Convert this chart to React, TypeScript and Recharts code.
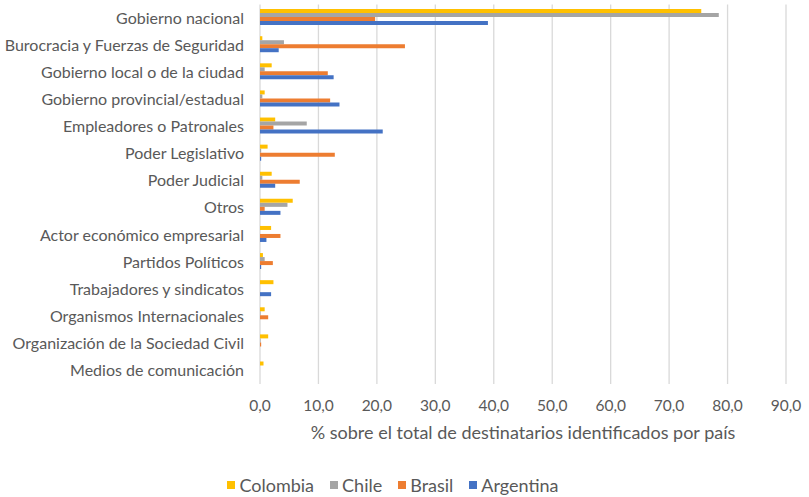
import { Bar, BarChart, CartesianGrid, Legend, XAxis, YAxis } from "recharts";

const categories = [
  "Gobierno nacional",
  "Burocracia y Fuerzas de Seguridad",
  "Gobierno local o de la ciudad",
  "Gobierno provincial/estadual",
  "Empleadores o Patronales",
  "Poder Legislativo",
  "Poder Judicial",
  "Otros",
  "Actor económico empresarial",
  "Partidos Políticos",
  "Trabajadores y sindicatos",
  "Organismos Internacionales",
  "Organización de la Sociedad Civil",
  "Medios de comunicación",
];

const colombia = [75.5, 0.4, 2.0, 0.8, 2.6, 1.3, 2.0, 5.6, 1.9, 0.5, 2.3, 0.8, 1.4, 0.6];
const chile = [78.5, 4.1, 0.8, 0.4, 8.0, 0.2, 0.4, 4.7, 0, 0.8, 0, 0.1, 0.1, 0];
const brasil = [19.7, 24.8, 11.6, 12.0, 2.3, 12.8, 6.8, 0.8, 3.5, 2.2, 0, 1.4, 0.2, 0];
const argentina = [39.0, 3.2, 12.6, 13.6, 21.0, 0.2, 2.6, 3.5, 1.1, 0.2, 1.9, 0, 0, 0];

const xTicks = [0, 10, 20, 30, 40, 50, 60, 70, 80, 90];

const series = [
  { key: "Colombia", color: "#FFC000" },
  { key: "Chile", color: "#A5A5A5" },
  { key: "Brasil", color: "#ED7D31" },
  { key: "Argentina", color: "#4472C4" },
];

const data = categories.map((name, i) => ({
  name,
  Colombia: colombia[i],
  Chile: chile[i],
  Brasil: brasil[i],
  Argentina: argentina[i],
}));

const font = "Lato, 'Open Sans', sans-serif";
const textColor = "#595959";
const fmt = (v: number) => v.toFixed(1).replace(".", ",");

function LegendContent() {
  return (
    <div
      style={{
        display: "flex",
        justifyContent: "center",
        alignItems: "center",
        height: 24,
        fontSize: 18,
        fontFamily: font,
        color: textColor,
        gap: 16,
      }}
    >
      {series.map((s) => (
        <div key={s.key} style={{ display: "flex", alignItems: "center", gap: 4 }}>
          <span style={{ width: 8, height: 8, background: s.color, display: "inline-block" }} />
          <span>{s.key}</span>
        </div>
      ))}
    </div>
  );
}

export default function App() {
  return (
    <div style={{ position: "absolute", left: 0, top: 0, fontFamily: font }}>
      <BarChart
        width={809}
        height={497}
        data={data}
        layout="vertical"
        barCategoryGap="17%"
        barGap={0}
        margin={{ top: 4.5, right: 23, bottom: 0, left: 0 }}
      >
        <CartesianGrid horizontal={false} stroke="#D9D9D9" strokeWidth={1.3} />
        <XAxis
          type="number"
          domain={[0, 90]}
          ticks={xTicks}
          tickFormatter={fmt}
          axisLine={false}
          tickLine={false}
          tickSize={0}
          tickMargin={16}
          height={89}
          tick={{ fontSize: 15.5, fill: textColor, fontFamily: font }}
          label={{
            value: "% sobre el total de destinatarios identificados por país",
            position: "insideTop",
            offset: 42,
            style: { fontSize: 18, fill: textColor, fontFamily: font },
          }}
        />
        <YAxis
          type="category"
          dataKey="name"
          width={260}
          axisLine={false}
          tickLine={false}
          tickSize={0}
          tickMargin={16}
          interval={0}
          tick={{ fontSize: 16, fill: textColor, fontFamily: font }}
        />
        <Legend verticalAlign="bottom" align="center" wrapperStyle={{ height: 24 }} content={<LegendContent />} />
        {series.map((s) => (
          <Bar key={s.key} dataKey={s.key} fill={s.color} isAnimationActive={false} />
        ))}
      </BarChart>
    </div>
  );
}
